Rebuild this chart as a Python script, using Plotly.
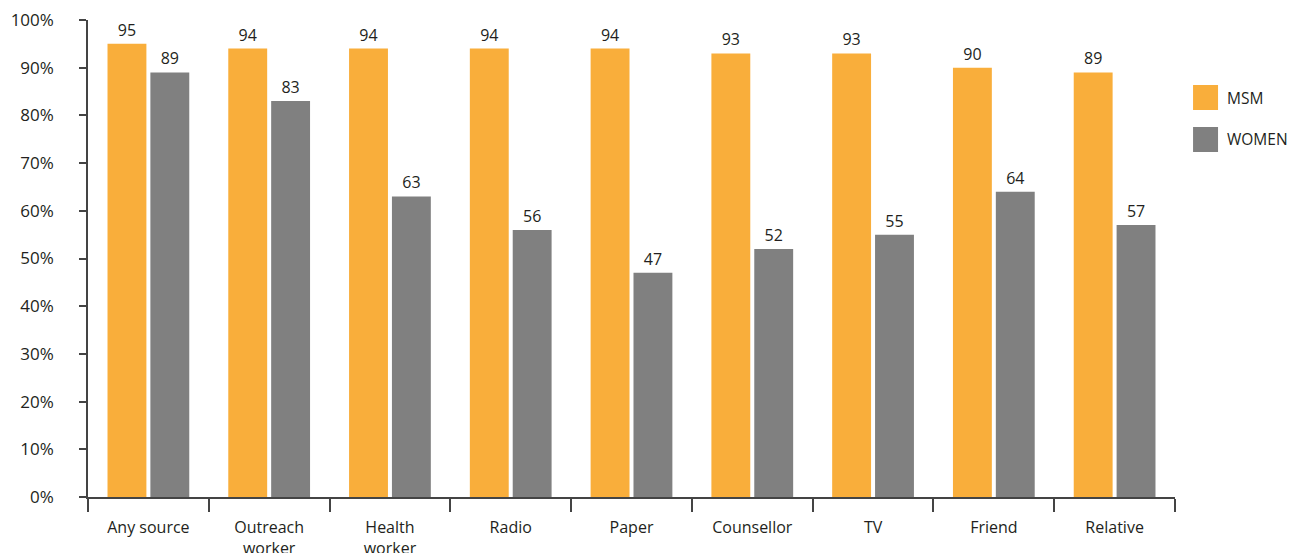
import plotly.graph_objects as go

categories = ["Any source", "Outreach<br>worker", "Health<br>worker", "Radio", "Paper",
              "Counsellor", "TV", "Friend", "Relative"]
msm = [95, 94, 94, 94, 94, 93, 93, 90, 89]
women = [89, 83, 63, 56, 47, 52, 55, 64, 57]
series_names = ["MSM", "WOMEN"]
colors = ["#F9AE3B", "#808080"]

FONT = "Open Sans"
TXT = "#231F20"
fig = go.Figure()
for name, vals, col in zip(series_names, [msm, women], colors):
    fig.add_trace(go.Bar(
        x=categories, y=vals, name=name, marker=dict(color=col, line=dict(width=0)),
        text=[str(v) for v in vals], textposition="outside",
        textfont=dict(family=FONT, size=16, color=TXT),
        cliponaxis=False, showlegend=False,
    ))

# legend drawn as squares + labels (paper coordinates)
legend_tops = [0.8637, 0.7757]
for name, col, top in zip(series_names, colors, legend_tops):
    fig.add_shape(type="rect", xref="paper", yref="paper",
                  x0=1.0166, x1=1.0396, y0=top - 0.0524, y1=top,
                  fillcolor=col, line=dict(width=0))
    fig.add_annotation(xref="paper", yref="paper", x=1.046, y=top - 0.0262,
                       text=name, showarrow=False, xanchor="left", yanchor="middle",
                       font=dict(family=FONT, size=15.5, color=TXT))

# page body has an 8px margin, so the figure is 8px smaller than the window
fig.update_layout(
    width=1287, height=545,
    margin=dict(l=80, r=120, t=12, b=56, autoexpand=False),
    plot_bgcolor="white", paper_bgcolor="white",
    barmode="group", bargap=0.29, bargroupgap=0.093,
    font=dict(family=FONT, size=16, color=TXT),
    showlegend=False,
)
fig.update_xaxes(
    showline=True, linecolor="#444444", linewidth=1.5,
    ticks="outside", tickson="boundaries", ticklen=13, tickcolor="#444444", tickwidth=1.5,
    showgrid=False, ticklabelstandoff=15, automargin=False, ticklabeloverflow="allow",
    tickfont=dict(family=FONT, size=16, color=TXT),
)
fig.update_yaxes(
    range=[0, 100], dtick=10, ticksuffix="%",
    showline=True, linecolor="#444444", linewidth=1.5,
    ticks="outside", ticklen=7, tickcolor="#444444", tickwidth=1.5,
    showgrid=False, zeroline=False, ticklabelstandoff=22, automargin=False,
    ticklabeloverflow="allow",
    tickfont=dict(family=FONT, size=17, color=TXT),
)
fig.write_html("out.html")
